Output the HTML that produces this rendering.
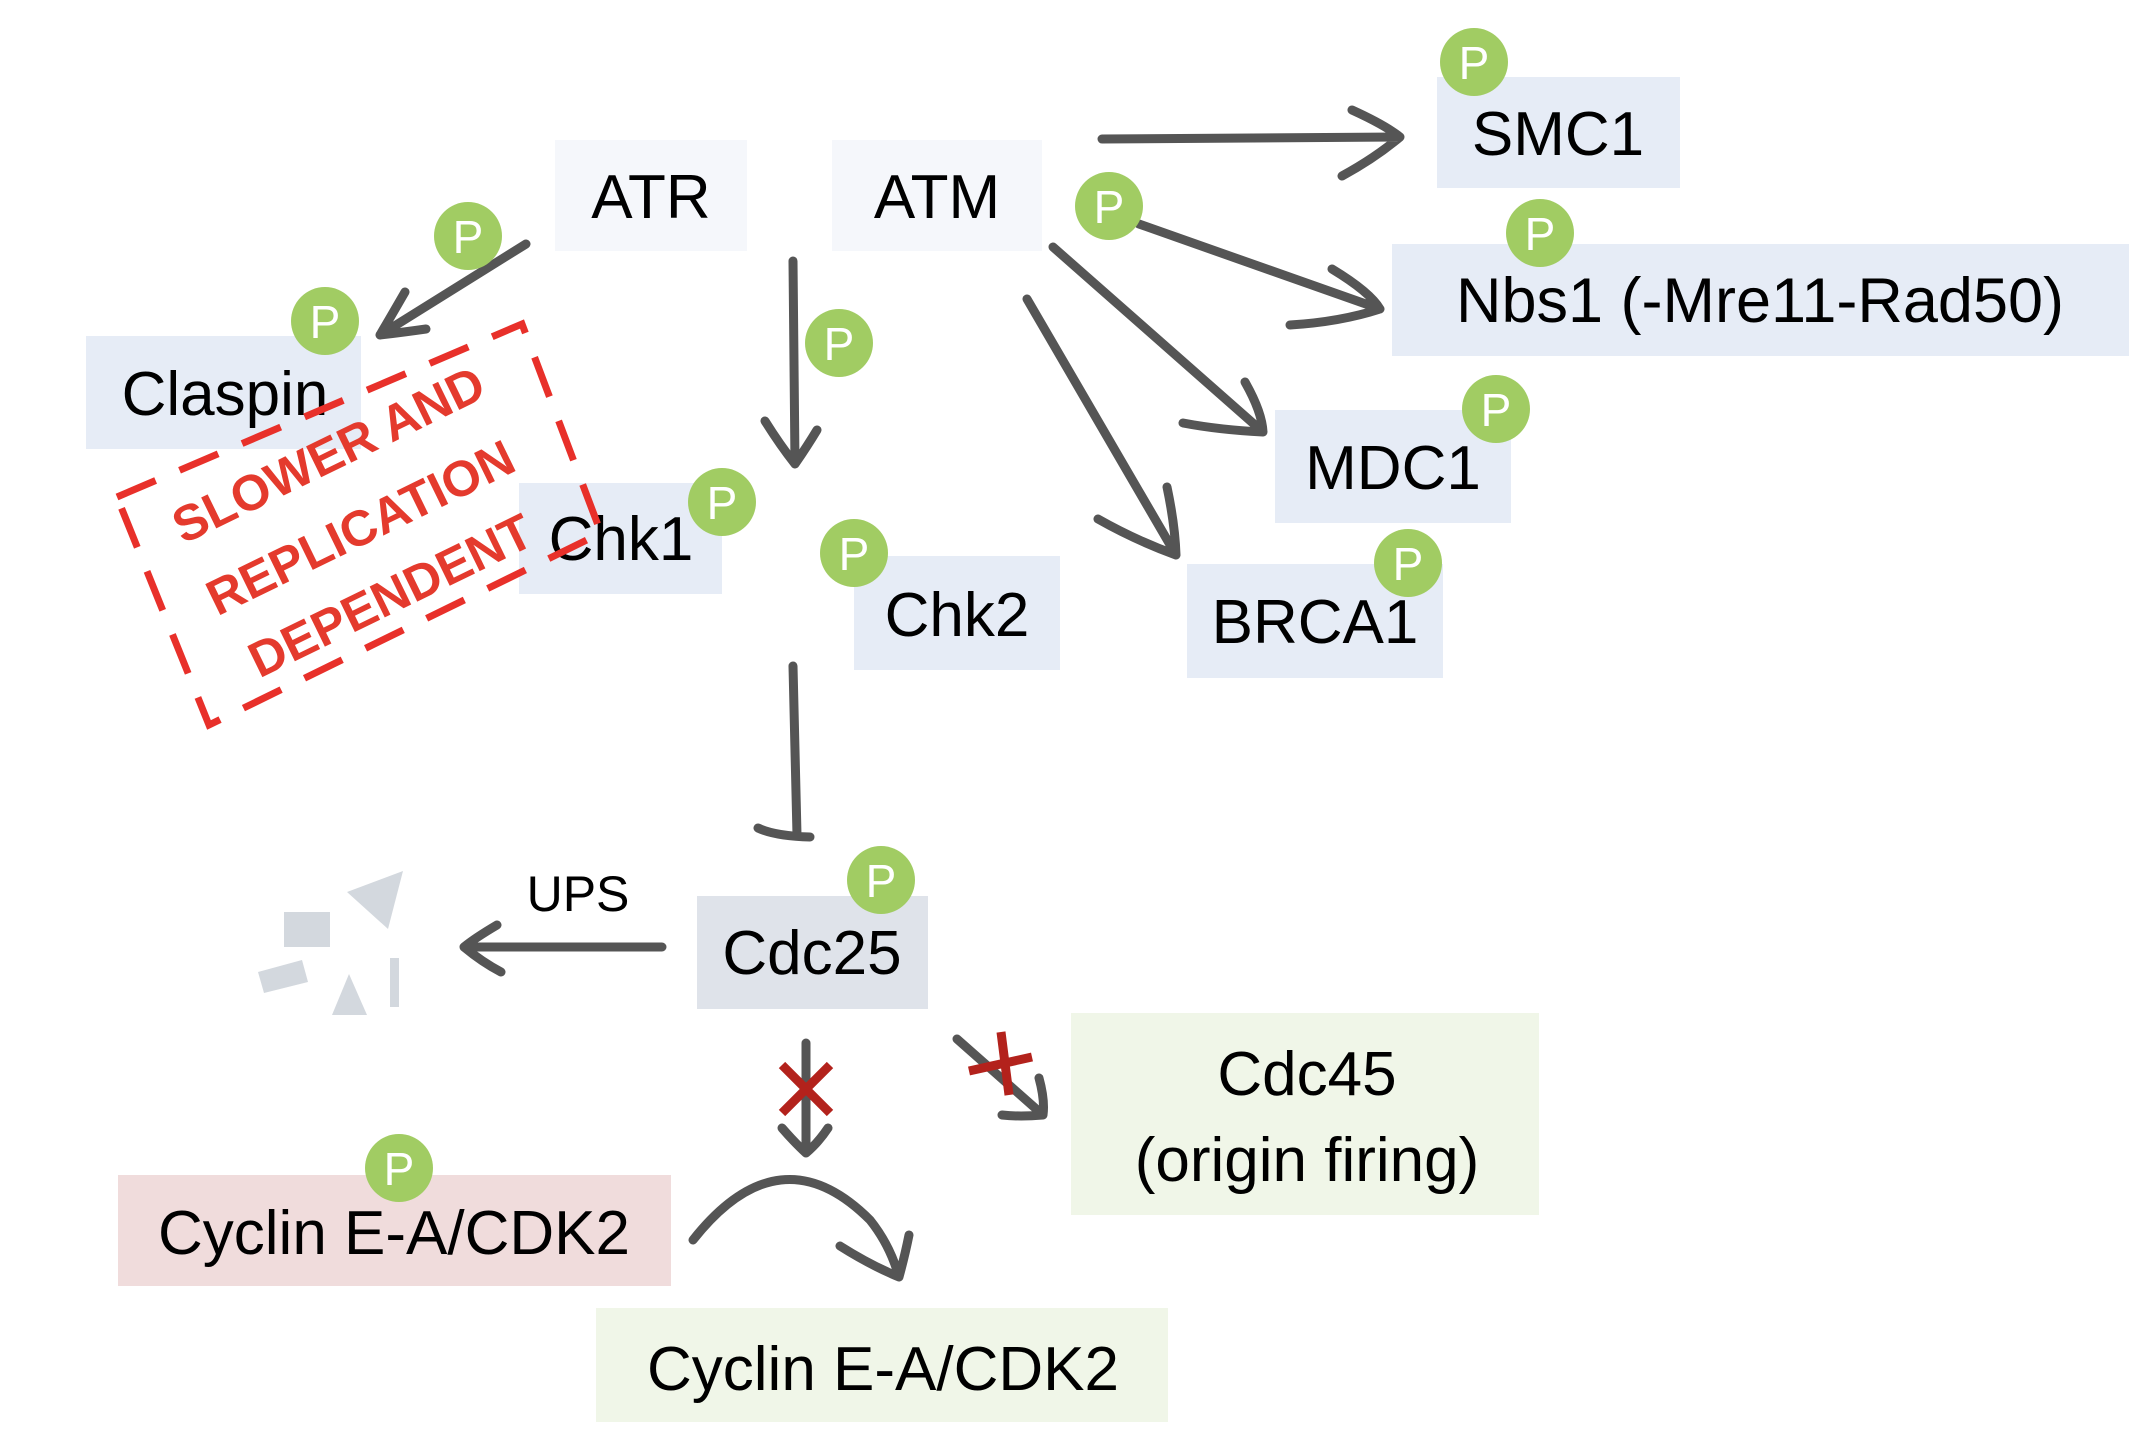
<!DOCTYPE html>
<html><head><meta charset="utf-8"><style>
html,body{margin:0;padding:0;background:#fff;}
svg{display:block;}
text{font-family:"Liberation Sans",sans-serif;}
</style></head><body>
<svg width="2140" height="1440" viewBox="0 0 2140 1440" xmlns="http://www.w3.org/2000/svg">
<rect width="2140" height="1440" fill="#fff"/>
<!-- boxes -->
<g>
<rect x="555" y="140" width="192" height="111" fill="#f5f7fb"/>
<rect x="832" y="140" width="210" height="111" fill="#f5f7fb"/>
<rect x="1437" y="77" width="243" height="111" fill="#e6ecf6"/>
<rect x="1392" y="244" width="737" height="112" fill="#e6ecf6"/>
<rect x="1275" y="410" width="236" height="113" fill="#e6ecf6"/>
<rect x="1187" y="564" width="256" height="114" fill="#e6ecf6"/>
<rect x="86" y="336" width="275" height="113" fill="#e6ecf6"/>
<rect x="519" y="483" width="203" height="111" fill="#e6ecf6"/>
<rect x="854" y="556" width="206" height="114" fill="#e6ecf6"/>
<rect x="697" y="896" width="231" height="113" fill="#dfe3ea"/>
<rect x="1071" y="1013" width="468" height="202" fill="#f0f6e8"/>
<rect x="118" y="1175" width="553" height="111" fill="#f0dcdc"/>
<rect x="596" y="1308" width="572" height="114" fill="#f0f6e8"/>
</g>
<!-- labels -->
<g font-size="62" fill="#000" text-anchor="middle">
<text x="651" y="218">ATR</text>
<text x="937" y="218">ATM</text>
<text x="1558" y="155">SMC1</text>
<text x="1760" y="322" font-size="63">Nbs1 (-Mre11-Rad50)</text>
<text x="1393" y="489">MDC1</text>
<text x="1315" y="643">BRCA1</text>
<text x="225" y="415">Claspin</text>
<text x="621" y="560">Chk1</text>
<text x="957" y="636">Chk2</text>
<text x="812" y="974">Cdc25</text>
<text x="1307" y="1095">Cdc45</text>
<text x="1307" y="1181">(origin firing)</text>
<text x="394" y="1254">Cyclin E-A/CDK2</text>
<text x="883" y="1390">Cyclin E-A/CDK2</text>
<text x="578" y="911" font-size="50">UPS</text>
</g>
<!-- arrows -->
<g fill="none" stroke="#555" stroke-width="9" stroke-linecap="round" stroke-linejoin="round">
<path d="M1102 139 L1400 137 M1352 110 Q1385 125 1400 137 Q1375 158 1342 176"/>
<path d="M1139 224 L1380 309 M1332 269 Q1370 292 1380 309 Q1340 322 1290 325"/>
<path d="M1053 247 L1263 432 M1245 382 Q1262 412 1263 432 Q1220 430 1183 423"/>
<path d="M1027 299 L1176 555 M1167 487 Q1175 525 1176 555 Q1135 540 1098 519"/>
<path d="M526 244 L380 335 M405 292 Q390 318 380 335 Q405 332 426 329"/>
<path d="M793 261 L795 464 M765 421 Q780 445 795 464 Q808 445 817 430"/>
<path d="M793 666 L797 835 M758 828 Q775 836 810 837"/>
<path d="M662 947 L464 947 M497 925 Q475 938 464 947 Q482 962 501 972"/>
<path d="M806 1043 L806 1153 M782 1128 Q795 1143 806 1153 Q818 1143 828 1128"/>
<path d="M957 1039 L1043 1115 M1039 1078 Q1045 1100 1043 1115 Q1020 1117 1002 1115"/>
<path d="M693 1240 Q780 1130 870 1220 Q890 1245 899 1277 M840 1246 Q870 1265 899 1277 Q905 1255 909 1235"/>
</g>
<!-- red X marks -->
<g stroke="#b3221c" stroke-width="9">
<path d="M782 1065 L830 1113 M830 1065 L782 1113"/>
<path d="M1001 1032 L1009 1095 M969 1071 L1032 1057"/>
</g>
<!-- degradation fragments -->
<g fill="#d3d8de">
<rect x="284" y="912" width="46" height="35"/>
<polygon points="347,892 403,871 388,929"/>
<polygon points="258,972 302,960 308,982 264,993"/>
<polygon points="332,1015 349,974 367,1015"/>
<rect x="390" y="958" width="9" height="49"/>
</g>
<!-- red dashed box -->
<polygon points="117,497 522,324 601,533 209,725" fill="none" stroke="#e8302a" stroke-width="7" stroke-dasharray="42 26"/>
<g fill="#e43a2d" font-weight="bold" font-size="50" text-anchor="middle">
<text transform="translate(336,470) rotate(-26)">SLOWER AND</text>
<text transform="translate(368,543) rotate(-26)">REPLICATION</text>
<text transform="translate(398,611) rotate(-26)">DEPENDENT</text>
</g>
<!-- P badges -->
<g fill="#a1cc63">
<circle cx="1474" cy="62" r="34"/>
<circle cx="1109" cy="206" r="34"/>
<circle cx="1540" cy="233" r="34"/>
<circle cx="1496" cy="409" r="34"/>
<circle cx="1408" cy="563" r="34"/>
<circle cx="468" cy="236" r="34"/>
<circle cx="325" cy="321" r="34"/>
<circle cx="839" cy="343" r="34"/>
<circle cx="722" cy="502" r="34"/>
<circle cx="854" cy="553" r="34"/>
<circle cx="881" cy="880" r="34"/>
<circle cx="399" cy="1168" r="34"/>
</g>
<g fill="#fff" font-size="46" text-anchor="middle">
<text x="1474" y="79">P</text>
<text x="1109" y="223">P</text>
<text x="1540" y="250">P</text>
<text x="1496" y="426">P</text>
<text x="1408" y="580">P</text>
<text x="468" y="253">P</text>
<text x="325" y="338">P</text>
<text x="839" y="360">P</text>
<text x="722" y="519">P</text>
<text x="854" y="570">P</text>
<text x="881" y="897">P</text>
<text x="399" y="1185">P</text>
</g>
</svg>
</body></html>
